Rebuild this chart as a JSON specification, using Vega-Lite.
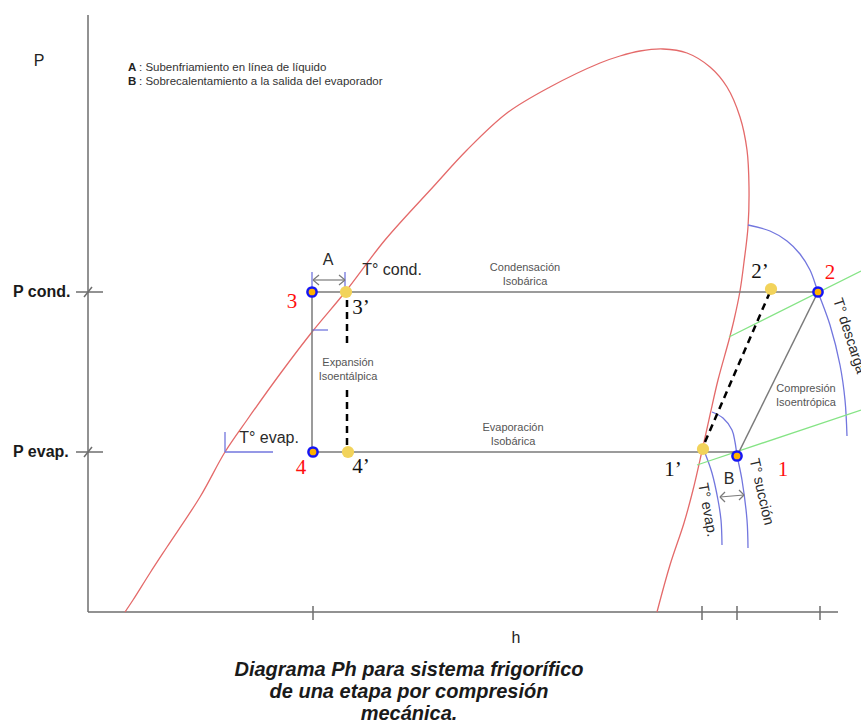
{
  "$schema": "https://vega.github.io/schema/vega-lite/v6.json",
  "width": 861,
  "height": 725,
  "autosize": {"type": "none"},
  "padding": 0,
  "background": "white",
  "config": {"view": {"stroke": null}},
  "datasets": {
    "curvas": [
      {"serie": "saturación", "i": 1, "h": 37, "p": 0},
      {"serie": "saturación", "i": 2, "h": 45, "p": 12},
      {"serie": "saturación", "i": 3, "h": 62, "p": 39},
      {"serie": "saturación", "i": 4, "h": 79, "p": 65},
      {"serie": "saturación", "i": 5, "h": 112, "p": 115},
      {"serie": "saturación", "i": 6, "h": 137, "p": 160},
      {"serie": "saturación", "i": 7, "h": 159, "p": 192},
      {"serie": "saturación", "i": 8, "h": 192, "p": 238},
      {"serie": "saturación", "i": 9, "h": 224, "p": 280},
      {"serie": "saturación", "i": 10, "h": 258, "p": 321},
      {"serie": "saturación", "i": 11, "h": 297, "p": 372},
      {"serie": "saturación", "i": 12, "h": 345, "p": 425},
      {"serie": "saturación", "i": 13, "h": 379, "p": 462},
      {"serie": "saturación", "i": 14, "h": 419, "p": 499},
      {"serie": "saturación", "i": 15, "h": 462, "p": 525},
      {"serie": "saturación", "i": 16, "h": 512, "p": 549},
      {"serie": "saturación", "i": 17, "h": 532, "p": 556},
      {"serie": "saturación", "i": 18, "h": 552, "p": 561},
      {"serie": "saturación", "i": 19, "h": 575, "p": 563},
      {"serie": "saturación", "i": 20, "h": 599, "p": 559},
      {"serie": "saturación", "i": 21, "h": 622, "p": 545},
      {"serie": "saturación", "i": 22, "h": 639, "p": 525},
      {"serie": "saturación", "i": 23, "h": 652, "p": 495},
      {"serie": "saturación", "i": 24, "h": 659, "p": 462},
      {"serie": "saturación", "i": 25, "h": 661, "p": 425},
      {"serie": "saturación", "i": 26, "h": 660, "p": 385},
      {"serie": "saturación", "i": 27, "h": 656, "p": 350},
      {"serie": "saturación", "i": 28, "h": 652, "p": 321},
      {"serie": "saturación", "i": 29, "h": 646, "p": 292},
      {"serie": "saturación", "i": 30, "h": 641, "p": 272},
      {"serie": "saturación", "i": 31, "h": 630, "p": 232},
      {"serie": "saturación", "i": 32, "h": 622, "p": 197},
      {"serie": "saturación", "i": 33, "h": 614, "p": 161},
      {"serie": "saturación", "i": 34, "h": 605, "p": 122},
      {"serie": "saturación", "i": 35, "h": 596, "p": 89},
      {"serie": "saturación", "i": 36, "h": 582, "p": 47},
      {"serie": "saturación", "i": 37, "h": 569, "p": 0},
      {"serie": "T descarga", "i": 1, "h": 660, "p": 387},
      {"serie": "T descarga", "i": 2, "h": 682, "p": 381},
      {"serie": "T descarga", "i": 3, "h": 699, "p": 371},
      {"serie": "T descarga", "i": 4, "h": 712, "p": 358},
      {"serie": "T descarga", "i": 5, "h": 722, "p": 342},
      {"serie": "T descarga", "i": 6, "h": 730, "p": 320},
      {"serie": "T descarga", "i": 7, "h": 742, "p": 287},
      {"serie": "T descarga", "i": 8, "h": 752, "p": 247},
      {"serie": "T descarga", "i": 9, "h": 757, "p": 212},
      {"serie": "T descarga", "i": 10, "h": 759, "p": 176},
      {"serie": "T succión", "i": 1, "h": 624, "p": 200},
      {"serie": "T succión", "i": 2, "h": 635, "p": 194},
      {"serie": "T succión", "i": 3, "h": 644, "p": 182},
      {"serie": "T succión", "i": 4, "h": 647, "p": 170},
      {"serie": "T succión", "i": 5, "h": 649, "p": 157},
      {"serie": "T succión", "i": 6, "h": 654, "p": 132},
      {"serie": "T succión", "i": 7, "h": 659, "p": 92},
      {"serie": "T succión", "i": 8, "h": 660, "p": 64},
      {"serie": "T evap", "i": 1, "h": 617, "p": 159},
      {"serie": "T evap", "i": 2, "h": 624, "p": 139},
      {"serie": "T evap", "i": 3, "h": 630, "p": 112},
      {"serie": "T evap", "i": 4, "h": 633, "p": 92},
      {"serie": "T evap", "i": 5, "h": 634, "p": 67}
    ],
    "segmentos": [
      {"tipo": "eje", "h": 0, "p": 597, "h2": 0, "p2": 0},
      {"tipo": "eje", "h": 0, "p": 0, "h2": 750, "p2": 0},
      {"tipo": "eje", "h": 225, "p": 6, "h2": 225, "p2": -8},
      {"tipo": "eje", "h": 614, "p": 6, "h2": 614, "p2": -8},
      {"tipo": "eje", "h": 649, "p": 6, "h2": 649, "p2": -8},
      {"tipo": "eje", "h": 732, "p": 6, "h2": 732, "p2": -8},
      {"tipo": "eje", "h": -12, "p": 320, "h2": 15, "p2": 320},
      {"tipo": "eje", "h": -12, "p": 160, "h2": 15, "p2": 160},
      {"tipo": "eje", "h": -4, "p": 315, "h2": 4, "p2": 325},
      {"tipo": "eje", "h": -4, "p": 155, "h2": 4, "p2": 165},
      {"tipo": "proceso", "h": 224, "p": 320, "h2": 730, "p2": 320},
      {"tipo": "proceso", "h": 224, "p": 160, "h2": 649, "p2": 160},
      {"tipo": "proceso", "h": 224, "p": 320, "h2": 224, "p2": 160},
      {"tipo": "proceso", "h": 649, "p": 156, "h2": 730, "p2": 320},
      {"tipo": "verde", "h": 641, "p": 275, "h2": 773, "p2": 341},
      {"tipo": "verde", "h": 609, "p": 147, "h2": 773, "p2": 202},
      {"tipo": "azul", "h": 224, "p": 340, "h2": 224, "p2": 325},
      {"tipo": "azul", "h": 257, "p": 340, "h2": 257, "p2": 325},
      {"tipo": "azul", "h": 224, "p": 282, "h2": 240, "p2": 282},
      {"tipo": "azul", "h": 137, "p": 180, "h2": 137, "p2": 160},
      {"tipo": "azul", "h": 137, "p": 160, "h2": 185, "p2": 160},
      {"tipo": "flecha", "h": 225, "p": 332, "h2": 257, "p2": 332},
      {"tipo": "flecha", "h": 225, "p": 332, "h2": 231, "p2": 337},
      {"tipo": "flecha", "h": 225, "p": 332, "h2": 231, "p2": 327},
      {"tipo": "flecha", "h": 257, "p": 332, "h2": 251, "p2": 337},
      {"tipo": "flecha", "h": 257, "p": 332, "h2": 251, "p2": 327},
      {"tipo": "flecha", "h": 632, "p": 115, "h2": 656, "p2": 117},
      {"tipo": "flecha", "h": 632, "p": 115, "h2": 637, "p2": 120},
      {"tipo": "flecha", "h": 632, "p": 115, "h2": 637, "p2": 110},
      {"tipo": "flecha", "h": 656, "p": 117, "h2": 651, "p2": 122},
      {"tipo": "flecha", "h": 656, "p": 117, "h2": 651, "p2": 112},
      {"tipo": "discontinua", "h": 259, "p": 312, "h2": 259, "p2": 264},
      {"tipo": "discontinua", "h": 259, "p": 222, "h2": 259, "p2": 167},
      {"tipo": "discontinua", "h": 617, "p": 170, "h2": 682, "p2": 320}
    ],
    "puntos": [
      {"tipo": "real", "nombre": "1", "h": 649, "p": 156},
      {"tipo": "real", "nombre": "2", "h": 730, "p": 320},
      {"tipo": "real", "nombre": "3", "h": 224, "p": 320},
      {"tipo": "real", "nombre": "4", "h": 225, "p": 160},
      {"tipo": "ideal", "nombre": "1’", "h": 615, "p": 163},
      {"tipo": "ideal", "nombre": "2’", "h": 683, "p": 323},
      {"tipo": "ideal", "nombre": "3’", "h": 258, "p": 320},
      {"tipo": "ideal", "nombre": "4’", "h": 260, "p": 160}
    ],
    "textos": [
      {"grupo": "num_real", "texto": "3", "h": 204, "p": 310},
      {"grupo": "num_real", "texto": "4", "h": 213, "p": 144},
      {"grupo": "num_real", "texto": "1", "h": 695, "p": 142},
      {"grupo": "num_real", "texto": "2", "h": 742, "p": 339},
      {"grupo": "num_ideal", "texto": "3’", "h": 273, "p": 304},
      {"grupo": "num_ideal", "texto": "4’", "h": 273, "p": 145},
      {"grupo": "num_ideal", "texto": "1’", "h": 585, "p": 142},
      {"grupo": "num_ideal", "texto": "2’", "h": 672, "p": 340},
      {"grupo": "etiqueta", "texto": "T° cond.", "h": 304, "p": 342},
      {"grupo": "etiqueta", "texto": "T° evap.", "h": 181, "p": 174},
      {"grupo": "etiqueta", "texto": "A", "h": 240, "p": 352},
      {"grupo": "etiqueta", "texto": "B", "h": 641, "p": 133},
      {"grupo": "proceso", "texto": "Condensación", "h": 437, "p": 344},
      {"grupo": "proceso", "texto": "Isobárica", "h": 437, "p": 330},
      {"grupo": "proceso", "texto": "Evaporación", "h": 425, "p": 184},
      {"grupo": "proceso", "texto": "Isobárica", "h": 425, "p": 170},
      {"grupo": "proceso", "texto": "Expansión", "h": 260, "p": 249},
      {"grupo": "proceso", "texto": "Isoentálpica", "h": 260, "p": 235},
      {"grupo": "proceso", "texto": "Compresión", "h": 718, "p": 223},
      {"grupo": "proceso", "texto": "Isoentrópica", "h": 718, "p": 209},
      {"grupo": "leyenda_letra", "texto": "A", "h": 40, "p": 544},
      {"grupo": "leyenda_letra", "texto": "B", "h": 40, "p": 530},
      {"grupo": "leyenda", "texto": ": Subenfriamiento en línea de líquido", "h": 51, "p": 544},
      {"grupo": "leyenda", "texto": ": Sobrecalentamiento a la salida del evaporador", "h": 51, "p": 530},
      {"grupo": "eje_titulo", "texto": "P", "h": -49, "p": 551},
      {"grupo": "eje_titulo", "texto": "h", "h": 428, "p": -26},
      {"grupo": "presion", "texto": "P cond.", "h": -75, "p": 320},
      {"grupo": "presion", "texto": "P evap.", "h": -75, "p": 160},
      {"grupo": "titulo", "texto": "Diagrama Ph para sistema frigorífico", "h": 321, "p": -58},
      {"grupo": "titulo", "texto": "de una etapa por compresión", "h": 321, "p": -80},
      {"grupo": "titulo", "texto": "mecánica.", "h": 321, "p": -102},
      {"grupo": "rot_evap", "texto": "T° evap.", "h": 619, "p": 102},
      {"grupo": "rot_succion", "texto": "T° succión", "h": 673, "p": 120},
      {"grupo": "rot_descarga", "texto": "T° descarga", "h": 761, "p": 276}
    ]
  },
  "encoding": {
    "x": {"field": "h", "type": "quantitative", "scale": {"domain": [-88, 773], "nice": false, "zero": false}, "axis": null},
    "y": {"field": "p", "type": "quantitative", "scale": {"domain": [-113, 612], "nice": false, "zero": false}, "axis": null}
  },
  "layer": [
    {
      "data": {"name": "segmentos"},
      "transform": [{"filter": "datum.tipo === 'eje'"}],
      "mark": {"type": "rule", "color": "#6e6e6e", "strokeWidth": 1.5},
      "encoding": {"x2": {"field": "h2"}, "y2": {"field": "p2"}}
    },
    {
      "data": {"name": "curvas"},
      "transform": [{"filter": "datum.serie === 'saturación'"}],
      "mark": {"type": "line", "color": "#e46a6a", "strokeWidth": 1.3, "interpolate": "catmull-rom"},
      "encoding": {"order": {"field": "i", "type": "quantitative"}, "detail": {"field": "serie"}}
    },
    {
      "data": {"name": "curvas"},
      "transform": [{"filter": "datum.serie !== 'saturación'"}],
      "mark": {"type": "line", "color": "#7276de", "strokeWidth": 1.3, "interpolate": "catmull-rom"},
      "encoding": {"order": {"field": "i", "type": "quantitative"}, "detail": {"field": "serie"}}
    },
    {
      "data": {"name": "segmentos"},
      "transform": [{"filter": "datum.tipo === 'verde'"}],
      "mark": {"type": "rule", "color": "#86e486", "strokeWidth": 1.3},
      "encoding": {"x2": {"field": "h2"}, "y2": {"field": "p2"}}
    },
    {
      "data": {"name": "segmentos"},
      "transform": [{"filter": "datum.tipo === 'azul'"}],
      "mark": {"type": "rule", "color": "#7276de", "strokeWidth": 1.3},
      "encoding": {"x2": {"field": "h2"}, "y2": {"field": "p2"}}
    },
    {
      "data": {"name": "segmentos"},
      "transform": [{"filter": "datum.tipo === 'proceso'"}],
      "mark": {"type": "rule", "color": "#7a7a7a", "strokeWidth": 1.5},
      "encoding": {"x2": {"field": "h2"}, "y2": {"field": "p2"}}
    },
    {
      "data": {"name": "segmentos"},
      "transform": [{"filter": "datum.tipo === 'flecha'"}],
      "mark": {"type": "rule", "color": "#7a7a7a", "strokeWidth": 1.2},
      "encoding": {"x2": {"field": "h2"}, "y2": {"field": "p2"}}
    },
    {
      "data": {"name": "segmentos"},
      "transform": [{"filter": "datum.tipo === 'discontinua'"}],
      "mark": {"type": "rule", "color": "#000000", "strokeWidth": 2.5, "strokeDash": [7, 5]},
      "encoding": {"x2": {"field": "h2"}, "y2": {"field": "p2"}}
    },
    {
      "data": {"name": "puntos"},
      "transform": [{"filter": "datum.tipo === 'ideal'"}],
      "mark": {"type": "point", "shape": "circle", "filled": true, "color": "#f2d35b", "opacity": 1, "size": 150}
    },
    {
      "data": {"name": "puntos"},
      "transform": [{"filter": "datum.tipo === 'real'"}],
      "mark": {"type": "point", "shape": "circle", "filled": true, "fill": "#ffb100", "stroke": "#1515f5", "strokeWidth": 2.5, "opacity": 1, "size": 85}
    },
    {
      "data": {"name": "textos"},
      "transform": [{"filter": "datum.grupo === 'num_real'"}],
      "mark": {"type": "text", "font": "Liberation Serif", "fontSize": 21, "color": "#ff1010", "align": "center", "baseline": "middle"},
      "encoding": {"text": {"field": "texto"}}
    },
    {
      "data": {"name": "textos"},
      "transform": [{"filter": "datum.grupo === 'num_ideal'"}],
      "mark": {"type": "text", "font": "Liberation Serif", "fontSize": 21, "color": "#111111", "align": "center", "baseline": "middle"},
      "encoding": {"text": {"field": "texto"}}
    },
    {
      "data": {"name": "textos"},
      "transform": [{"filter": "datum.grupo === 'etiqueta'"}],
      "mark": {"type": "text", "font": "Liberation Sans", "fontSize": 16, "color": "#2a2a2a", "align": "center", "baseline": "middle"},
      "encoding": {"text": {"field": "texto"}}
    },
    {
      "data": {"name": "textos"},
      "transform": [{"filter": "datum.grupo === 'proceso'"}],
      "mark": {"type": "text", "font": "Liberation Sans", "fontSize": 11, "color": "#555555", "align": "center", "baseline": "middle"},
      "encoding": {"text": {"field": "texto"}}
    },
    {
      "data": {"name": "textos"},
      "transform": [{"filter": "datum.grupo === 'leyenda_letra'"}],
      "mark": {"type": "text", "font": "Liberation Sans", "fontSize": 11.5, "fontWeight": "bold", "color": "#222222", "align": "left", "baseline": "middle"},
      "encoding": {"text": {"field": "texto"}}
    },
    {
      "data": {"name": "textos"},
      "transform": [{"filter": "datum.grupo === 'leyenda'"}],
      "mark": {"type": "text", "font": "Liberation Sans", "fontSize": 11.5, "color": "#333333", "align": "left", "baseline": "middle"},
      "encoding": {"text": {"field": "texto"}}
    },
    {
      "data": {"name": "textos"},
      "transform": [{"filter": "datum.grupo === 'eje_titulo'"}],
      "mark": {"type": "text", "font": "Liberation Sans", "fontSize": 16, "color": "#222222", "align": "center", "baseline": "middle"},
      "encoding": {"text": {"field": "texto"}}
    },
    {
      "data": {"name": "textos"},
      "transform": [{"filter": "datum.grupo === 'presion'"}],
      "mark": {"type": "text", "font": "Liberation Sans", "fontSize": 16, "fontWeight": "bold", "color": "#1a1a1a", "align": "left", "baseline": "middle"},
      "encoding": {"text": {"field": "texto"}}
    },
    {
      "data": {"name": "textos"},
      "transform": [{"filter": "datum.grupo === 'titulo'"}],
      "mark": {"type": "text", "font": "Liberation Sans", "fontSize": 20, "fontWeight": "bold", "fontStyle": "italic", "color": "#1a1a1a", "align": "center", "baseline": "middle"},
      "encoding": {"text": {"field": "texto"}}
    },
    {
      "data": {"name": "textos"},
      "transform": [{"filter": "datum.grupo === 'rot_evap'"}],
      "mark": {"type": "text", "font": "Liberation Sans", "fontSize": 14.5, "color": "#2a2a2a", "align": "center", "baseline": "middle", "angle": 80},
      "encoding": {"text": {"field": "texto"}}
    },
    {
      "data": {"name": "textos"},
      "transform": [{"filter": "datum.grupo === 'rot_succion'"}],
      "mark": {"type": "text", "font": "Liberation Sans", "fontSize": 14.5, "color": "#2a2a2a", "align": "center", "baseline": "middle", "angle": 77},
      "encoding": {"text": {"field": "texto"}}
    },
    {
      "data": {"name": "textos"},
      "transform": [{"filter": "datum.grupo === 'rot_descarga'"}],
      "mark": {"type": "text", "font": "Liberation Sans", "fontSize": 14.5, "color": "#2a2a2a", "align": "center", "baseline": "middle", "angle": 72},
      "encoding": {"text": {"field": "texto"}}
    }
  ]
}
